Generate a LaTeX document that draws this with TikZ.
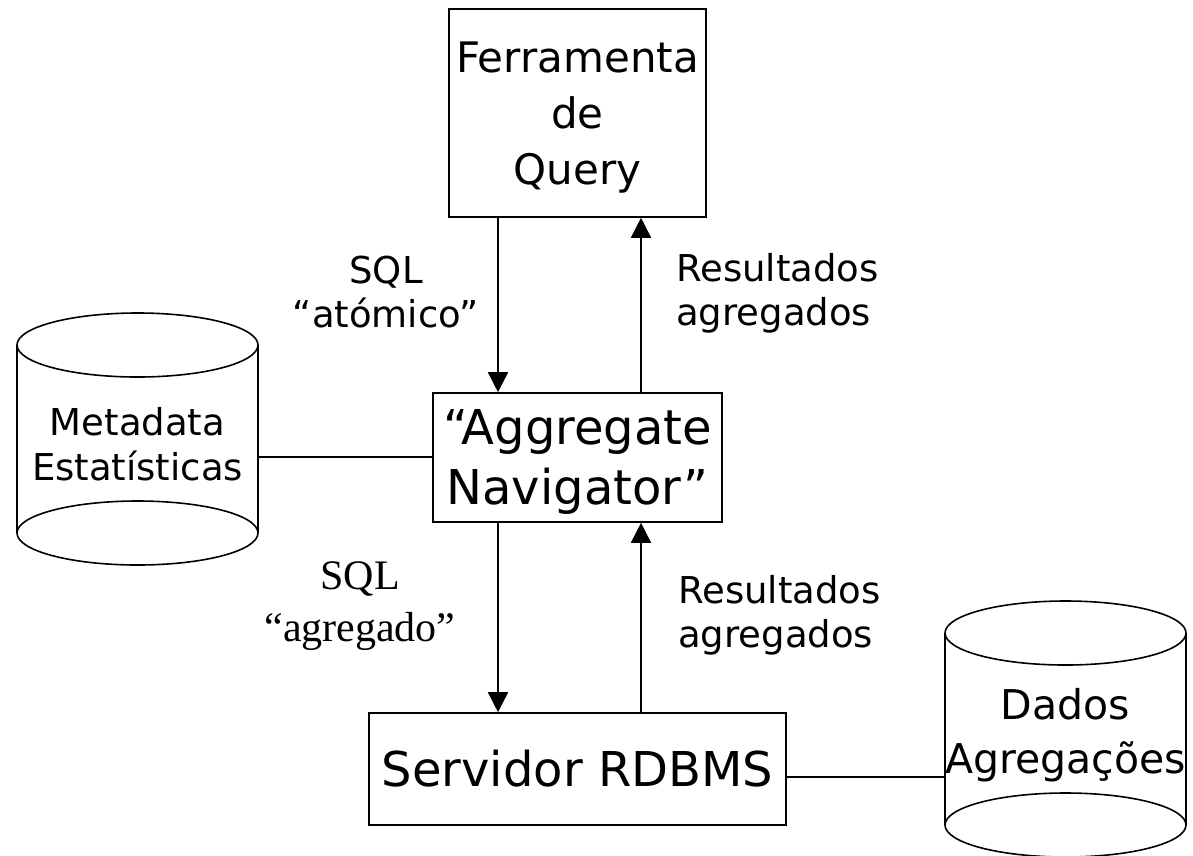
\documentclass[tikz,border=0pt]{standalone}
\usepackage{fontspec}
\setmainfont{DejaVu Sans}
\newfontfamily\timesfont{Liberation Serif}
\usetikzlibrary{arrows.meta}
\begin{document}
\begin{tikzpicture}[x=1pt,y=-1pt,
  box/.style={draw,line width=1.6pt,inner sep=0pt},
  boxtext/.style={inner sep=0pt,align=center},
  dbtext/.style={inner sep=0pt,align=center,font=\fontsize{37}{45}\selectfont},
  lbl/.style={inner sep=0pt,font=\fontsize{37}{44}\selectfont},
  flow/.style={line width=1.6pt,-{Triangle[width=20pt,length=20pt]}},
  link/.style={line width=2pt},
  cyl/.style={line width=1.6pt}]
\useasboundingbox (0,0) rectangle (1193,855);

% boxes
\node[box,minimum width=257pt,minimum height=208pt] (query) at (577.5,113) {};
\node[boxtext,font=\fontsize{42}{56}\selectfont] (querytxt) at (577.5,118) {Ferramenta\\de\\Query};
\node[box,minimum width=289pt,minimum height=129pt] (nav) at (577.5,457.5) {};
\node[boxtext,font=\fontsize{48}{60}\selectfont] (navtxt) at (577.5,462) {“Aggregate\\Navigator”};
\node[box,minimum width=417pt,minimum height=112pt,font=\fontsize{48}{58}\selectfont]
  (rdbms) at (577.5,769) {Servidor RDBMS};

% cylinders
\draw[cyl] (17,345) -- (17,533) (258,345) -- (258,533);
\draw[cyl,fill=white] (137.5,345) ellipse [x radius=120.5pt,y radius=32pt];
\draw[cyl] (137.5,533) ellipse [x radius=120.5pt,y radius=32pt];
\node[dbtext,minimum width=241pt,minimum height=188pt] (meta) at (137.5,444) {Metadata\\Estatísticas};

\draw[cyl] (945,633) -- (945,825) (1186,633) -- (1186,825);
\draw[cyl,fill=white] (1065.5,633) ellipse [x radius=120.5pt,y radius=32pt];
\draw[cyl] (1065.5,825) ellipse [x radius=120.5pt,y radius=32pt];
\node[dbtext,minimum width=241pt,minimum height=192pt,font=\fontsize{41}{54}\selectfont] (dados) at (1065.5,735) {Dados\\Agregações};

% arrow columns
\coordinate (down) at (498,0);
\coordinate (up) at (641,0);

\draw[flow] (query.south -| down) -- (nav.north -| down);
\draw[flow] (nav.north -| up) -- (query.south -| up);
\draw[flow] (nav.south -| down) -- (rdbms.north -| down);
\draw[flow] (rdbms.north -| up) -- (nav.south -| up);

% links to the stores
\coordinate (metay) at (0,457);
\draw[link] (meta.east |- metay) -- (nav.west |- metay);
\coordinate (dadosy) at (0,777);
\draw[link] (rdbms.east |- dadosy) -- (dados.west |- dadosy);

% labels
\node[lbl,align=center] (sqla) at (386,292) {SQL\\“atómico”};
\node[lbl,align=left,anchor=west] (resa) at (676,293) {Resultados\\agregados};
\node[lbl,align=center,font=\timesfont\fontsize{42}{52}\selectfont] (sqlb) at (360,606) {SQL\\“agregado”};
\node[lbl,align=left,anchor=west] (resb) at (678,615) {Resultados\\agregados};
\end{tikzpicture}
\end{document}
